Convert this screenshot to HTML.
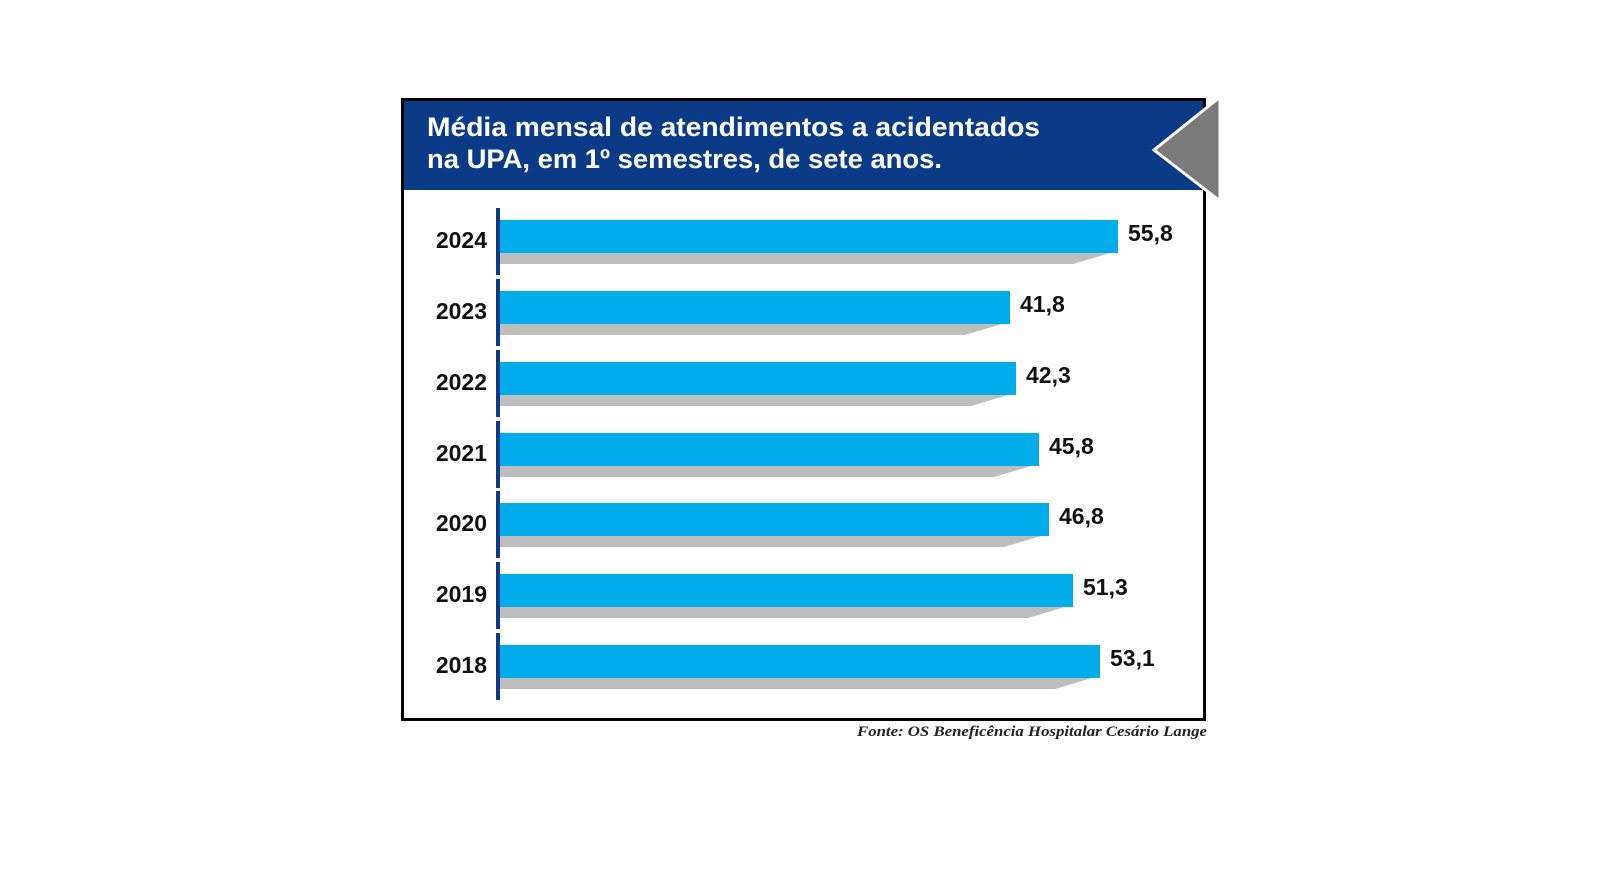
<!DOCTYPE html>
<html><head><meta charset="utf-8"><style>
html,body{margin:0;padding:0;background:#fff;}
</style></head><body>
<svg width="1600" height="890" xmlns="http://www.w3.org/2000/svg" style="display:block">
<rect x="0" y="0" width="1600" height="890" fill="#fff"/>
<rect x="402.5" y="99.5" width="802" height="620" fill="#fff" stroke="#000" stroke-width="3"/>
<rect x="404" y="101" width="799" height="89" fill="#0b3a87"/>
<polygon points="1154,150 1220,97 1220,201" fill="#7a7a7a" stroke="#fff" stroke-width="3"/>
<g font-family="Liberation Sans, sans-serif" font-weight="bold" fill="#fff" font-size="27">
<text x="427" y="136" textLength="613" lengthAdjust="spacingAndGlyphs">Média mensal de atendimentos a acidentados</text>
<text x="427" y="168" textLength="515" lengthAdjust="spacingAndGlyphs">na UPA, em 1º semestres, de sete anos.</text>
</g>
<g font-family="Liberation Sans, sans-serif" font-weight="bold" font-size="23" fill="#111">
<g transform="translate(0,220)">
<rect x="496" y="-12" width="4" height="67" fill="#0b3a87"/>
<polygon points="500,33 1110,33 1073,44 500,44" fill="#bdbdbd"/>
<rect x="500" y="0" width="618" height="33" fill="#00adeb"/>
<text x="487" y="28" text-anchor="end">2024</text><text x="1128" y="21">55,8</text>
</g>
<g transform="translate(0,291)">
<rect x="496" y="-12" width="4" height="67" fill="#0b3a87"/>
<polygon points="500,33 1002,33 965,44 500,44" fill="#bdbdbd"/>
<rect x="500" y="0" width="510" height="33" fill="#00adeb"/>
<text x="487" y="28" text-anchor="end">2023</text><text x="1020" y="21">41,8</text>
</g>
<g transform="translate(0,362)">
<rect x="496" y="-12" width="4" height="67" fill="#0b3a87"/>
<polygon points="500,33 1008,33 971,44 500,44" fill="#bdbdbd"/>
<rect x="500" y="0" width="516" height="33" fill="#00adeb"/>
<text x="487" y="28" text-anchor="end">2022</text><text x="1026" y="21">42,3</text>
</g>
<g transform="translate(0,433)">
<rect x="496" y="-12" width="4" height="67" fill="#0b3a87"/>
<polygon points="500,33 1031,33 994,44 500,44" fill="#bdbdbd"/>
<rect x="500" y="0" width="539" height="33" fill="#00adeb"/>
<text x="487" y="28" text-anchor="end">2021</text><text x="1049" y="21">45,8</text>
</g>
<g transform="translate(0,503)">
<rect x="496" y="-12" width="4" height="67" fill="#0b3a87"/>
<polygon points="500,33 1041,33 1004,44 500,44" fill="#bdbdbd"/>
<rect x="500" y="0" width="549" height="33" fill="#00adeb"/>
<text x="487" y="28" text-anchor="end">2020</text><text x="1059" y="21">46,8</text>
</g>
<g transform="translate(0,574)">
<rect x="496" y="-12" width="4" height="67" fill="#0b3a87"/>
<polygon points="500,33 1065,33 1028,44 500,44" fill="#bdbdbd"/>
<rect x="500" y="0" width="573" height="33" fill="#00adeb"/>
<text x="487" y="28" text-anchor="end">2019</text><text x="1083" y="21">51,3</text>
</g>
<g transform="translate(0,645)">
<rect x="496" y="-12" width="4" height="67" fill="#0b3a87"/>
<polygon points="500,33 1092,33 1055,44 500,44" fill="#bdbdbd"/>
<rect x="500" y="0" width="600" height="33" fill="#00adeb"/>
<text x="487" y="28" text-anchor="end">2018</text><text x="1110" y="21">53,1</text>
</g>
</g>
<text x="857" y="736" textLength="350" lengthAdjust="spacingAndGlyphs" font-family="Liberation Serif, serif" font-style="italic" font-weight="bold" font-size="15" fill="#222">Fonte: OS Beneficência Hospitalar Cesário Lange</text>
</svg>
</body></html>
